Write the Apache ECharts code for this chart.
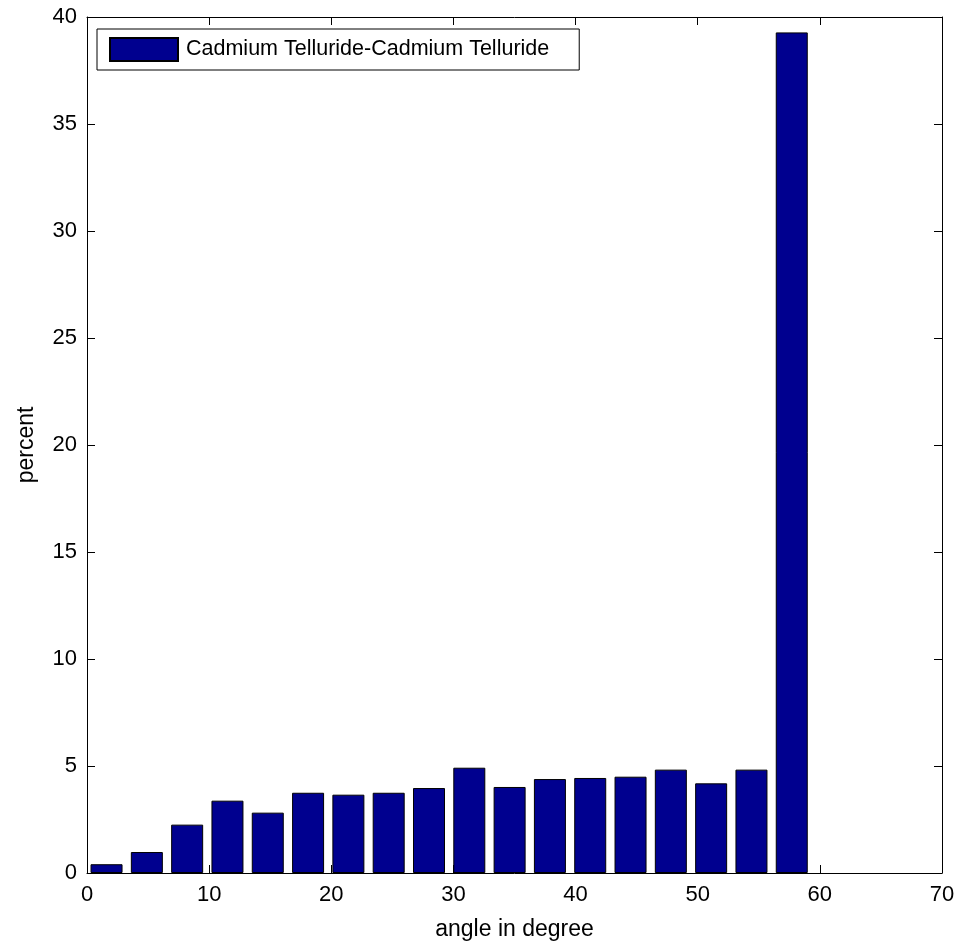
<!DOCTYPE html>
<html>
<head>
<meta charset="utf-8">
<script src="https://cdn.jsdelivr.net/npm/echarts@6/dist/echarts.min.js"></script>
<style>
html, body { margin: 0; padding: 0; background: #fff; }
#chart { width: 973px; height: 941px; }
</style>
</head>
<body>
<div id="chart"></div>
<script>
// bin centres (degrees) and share of each bin (percent)
var binCenters = [1.6, 4.9, 8.2, 11.5, 14.8, 18.1, 21.4, 24.7, 28.0, 31.3, 34.6, 37.9, 41.2, 44.5, 47.8, 51.1, 54.4, 57.7];
var percents = [0.41, 0.98, 2.26, 3.38, 2.82, 3.75, 3.66, 3.75, 3.97, 4.92, 4.02, 4.39, 4.44, 4.50, 4.83, 4.19, 4.83, 39.28];
var seriesName = 'Cadmium Telluride-Cadmium Telluride';

var barData = [];
for (var i = 0; i < binCenters.length; i++) {
	barData.push([binCenters[i], percents[i]]);
}

var font = 'Liberation Sans, Arial, Helvetica, sans-serif';
var tick = { show: true, inside: true, length: 8, lineStyle: { color: '#000', width: 1 } };

var chart = echarts.init(document.getElementById('chart'));
chart.setOption({
	animation: false,
	backgroundColor: '#fff',
	grid: { left: 87, right: 31, top: 17, bottom: 68, outerBoundsMode: 'none', containLabel: false },
	legend: {
		left: 97,
		top: 29,
		padding: [8, 30, 8, 12],
		itemWidth: 68,
		itemHeight: 23,
		itemGap: 0,
		borderColor: '#000',
		borderWidth: 1,
		backgroundColor: '#fff',
		textStyle: { fontFamily: font, fontSize: 21.5, color: '#000', padding: [0, 0, 0, 3] },
		data: [{ name: seriesName, icon: 'rect' }]
	},
	xAxis: [{
		type: 'value',
		min: 0, max: 70, interval: 10,
		name: 'angle in degree',
		nameLocation: 'middle',
		nameGap: 45,
		nameTextStyle: { fontFamily: font, fontSize: 23, color: '#000' },
		axisLine: { show: true, lineStyle: { color: '#000', width: 1 } },
		axisTick: tick,
		axisLabel: { fontFamily: font, fontSize: 22, color: '#000', margin: 11 },
		splitLine: { show: false }
	}, {
		type: 'value',
		position: 'top',
		min: 0, max: 70, interval: 10,
		axisLine: { show: true, onZero: false, lineStyle: { color: '#000', width: 1 } },
		axisTick: tick,
		axisLabel: { show: false },
		splitLine: { show: false }
	}],
	yAxis: [{
		type: 'value',
		min: 0, max: 40, interval: 5,
		name: 'percent',
		nameLocation: 'middle',
		nameGap: 49,
		nameTextStyle: { fontFamily: font, fontSize: 23, color: '#000' },
		axisLine: { show: true, lineStyle: { color: '#000', width: 1 } },
		axisTick: tick,
		axisLabel: { fontFamily: font, fontSize: 22, color: '#000', margin: 10 },
		splitLine: { show: false }
	}, {
		type: 'value',
		position: 'right',
		min: 0, max: 40, interval: 5,
		axisLine: { show: true, onZero: false, lineStyle: { color: '#000', width: 1 } },
		axisTick: tick,
		axisLabel: { show: false },
		splitLine: { show: false }
	}],
	series: [{
		name: seriesName,
		type: 'bar',
		xAxisIndex: 0,
		yAxisIndex: 0,
		barWidth: 32,
		itemStyle: { color: '#00008f', borderColor: '#000', borderWidth: 1 },
		data: barData
	}]
});
</script>
</body>
</html>
